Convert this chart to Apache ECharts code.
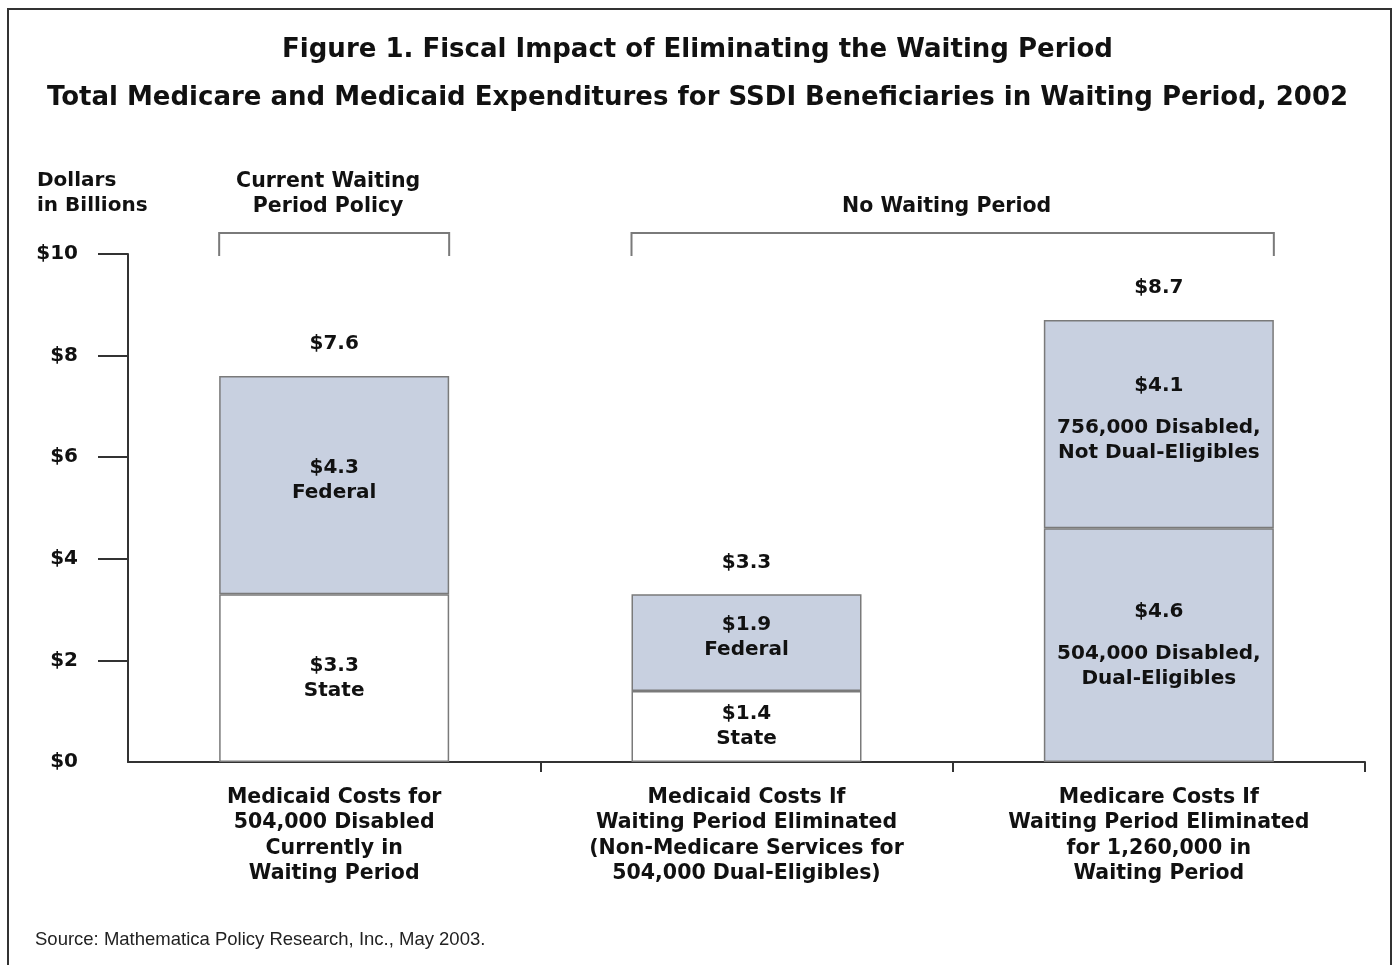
<!DOCTYPE html>
<html>
<head>
<meta charset="utf-8">
<script src="https://cdn.jsdelivr.net/npm/echarts@6/dist/echarts.min.js"></script>
<style>
  html, body { margin: 0; padding: 0; background: #fff; }
  #chart { width: 1395px; height: 965px; }
</style>
</head>
<body>
<div id="chart"></div>
<script>
// data
const categories = [
  'Medicaid Costs for\n504,000 Disabled\nCurrently in\nWaiting Period',
  'Medicaid Costs If\nWaiting Period Eliminated\n(Non-Medicare Services for\n504,000 Dual-Eligibles)',
  'Medicare Costs If\nWaiting Period Eliminated\nfor 1,260,000 in\nWaiting Period'
];
const lowerValues = [3.3, 1.4, 4.6];
const upperValues = [4.3, 1.9, 4.1];
const totals = [7.6, 3.3, 8.7];
const lowerNames = ['State', 'State', '504,000 Disabled,\nDual-Eligibles'];
const upperNames = ['Federal', 'Federal', '756,000 Disabled,\nNot Dual-Eligibles'];
const yTicks = [0, 2, 4, 6, 8, 10];
const groups = [
  { name: 'Current Waiting\nPeriod Policy', from: 0, to: 0 },
  { name: 'No Waiting Period', from: 1, to: 2 }
];

const FONT = 'DejaVu Sans';
const BLUE = '#c8d0e0';
const lowerFill = ['#ffffff', '#ffffff', BLUE];
const barWidth = 230;

const chart = echarts.init(document.getElementById('chart'));

const money = v => '$' + v.toFixed(1);

// label inside a stacked segment
function segLabel(v, name) {
  const lines = name.split('\n');
  if (lines.length > 1) {
    return '{v|' + money(v) + '}\n{s| }\n' + lines.map(l => '{n|' + l + '}').join('\n');
  }
  return '{v|' + money(v) + '}\n{n|' + name + '}';
}

const rich = {
  v: { fontFamily: FONT, fontWeight: 'bold', fontSize: 20, lineHeight: 25, color: '#111' },
  n: { fontFamily: FONT, fontWeight: 'bold', fontSize: 20, lineHeight: 25, color: '#111' },
  s: { fontSize: 10, lineHeight: 17 }
};

const option = {
  animation: false,
  backgroundColor: '#fff',
  title: [
    {
      text: 'Figure 1. Fiscal Impact of Eliminating the Waiting Period',
      left: 'center', top: 32,
      textStyle: { fontFamily: FONT, fontWeight: 'bold', fontSize: 26, color: '#111' }
    },
    {
      text: 'Total Medicare and Medicaid Expenditures for SSDI Beneficiaries in Waiting Period, 2002',
      left: 'center', top: 80,
      textStyle: { fontFamily: FONT, fontWeight: 'bold', fontSize: 26, color: '#111' }
    }
  ],
  grid: { left: 128, right: 30, top: 254, bottom: 203, containLabel: false },
  xAxis: {
    type: 'category',
    data: categories,
    axisLine: { lineStyle: { color: '#333', width: 2 } },
    axisTick: { show: true, length: 10, interval: i => i !== 0, lineStyle: { color: '#333', width: 2 } },
    axisLabel: {
      margin: 23, interval: 0,
      fontFamily: FONT, fontWeight: 'bold', fontSize: 20.5, lineHeight: 25.3, color: '#111'
    }
  },
  yAxis: {
    type: 'value',
    min: 0, max: 10, interval: 2,
    splitLine: { show: false },
    axisLine: { show: true, lineStyle: { color: '#333', width: 2 } },
    axisTick: { show: true, length: 30, customValues: yTicks.slice(1), lineStyle: { color: '#333', width: 2 } },
    axisLabel: {
      margin: 50, customValues: yTicks,
      formatter: v => '$' + v,
      fontFamily: FONT, fontWeight: 'bold', fontSize: 20, color: '#111'
    }
  },
  series: [
    {
      type: 'bar', stack: 'total', barWidth: barWidth,
      data: lowerValues.map((v, i) => ({
        value: v,
        itemStyle: { color: lowerFill[i] },
        label: { formatter: segLabel(v, lowerNames[i]) }
      })),
      itemStyle: { borderColor: '#7a7a7a', borderWidth: 1.5 },
      label: { show: true, position: 'inside', rich: rich }
    },
    {
      type: 'bar', stack: 'total', barWidth: barWidth,
      data: upperValues.map((v, i) => ({
        value: v,
        label: { formatter: segLabel(v, upperNames[i]) }
      })),
      itemStyle: { color: BLUE, borderColor: '#7a7a7a', borderWidth: 1.5 },
      label: { show: true, position: 'inside', offset: [0, -5], rich: rich }
    },
    {
      type: 'scatter',
      data: totals,
      symbolSize: 0,
      itemStyle: { color: '#111', opacity: 1 },
      label: {
        show: true, position: 'top', distance: 22,
        formatter: p => '{t|' + money(p.value) + '}',
        rich: { t: { fontFamily: FONT, fontWeight: 'bold', fontSize: 20, color: '#111', opacity: 1 } }
      },
      silent: true,
      z: 5
    }
  ]
};

chart.setOption(option);

// brackets, group titles, axis caption, source and frame
const gridTop = chart.convertToPixel({ yAxisIndex: 0 }, 10);
const bracketY = gridTop - 21;
const graphics = [];
groups.forEach(g => {
  const x1 = chart.convertToPixel({ xAxisIndex: 0 }, g.from) - barWidth / 2;
  const x2 = chart.convertToPixel({ xAxisIndex: 0 }, g.to) + barWidth / 2;
  graphics.push({
    type: 'polyline', silent: true,
    shape: { points: [[x1, bracketY + 23], [x1, bracketY], [x2, bracketY], [x2, bracketY + 23]] },
    style: { stroke: '#7a7a7a', lineWidth: 2, fill: null }
  });
  graphics.push({
    type: 'text', silent: true,
    x: (x1 + x2) / 2 - 6, y: bracketY - 13.5,
    style: {
      text: g.name, textAlign: 'center', align: 'center',
      textVerticalAlign: 'bottom', verticalAlign: 'bottom',
      font: 'bold 20.5px "' + FONT + '"', lineHeight: 25, fill: '#111'
    }
  });
});
graphics.push({
  type: 'text', silent: true, x: 37, y: 168,
  style: {
    text: 'Dollars\nin Billions', textAlign: 'left', align: 'left',
    textVerticalAlign: 'top', verticalAlign: 'top',
    font: 'bold 20px "' + FONT + '"', lineHeight: 25, fill: '#111'
  }
});
graphics.push({
  type: 'text', silent: true, x: 35, y: 940,
  style: {
    text: 'Source: Mathematica Policy Research, Inc., May 2003.',
    textAlign: 'left', align: 'left', textVerticalAlign: 'middle', verticalAlign: 'middle',
    font: '18.5px "Liberation Sans"', fill: '#222'
  }
});
graphics.push({
  type: 'rect', silent: true,
  shape: { x: 8, y: 9, width: 1383, height: 1000 },
  style: { stroke: '#333', lineWidth: 2, fill: null }
});
chart.setOption({ graphic: graphics });
</script>
</body>
</html>
